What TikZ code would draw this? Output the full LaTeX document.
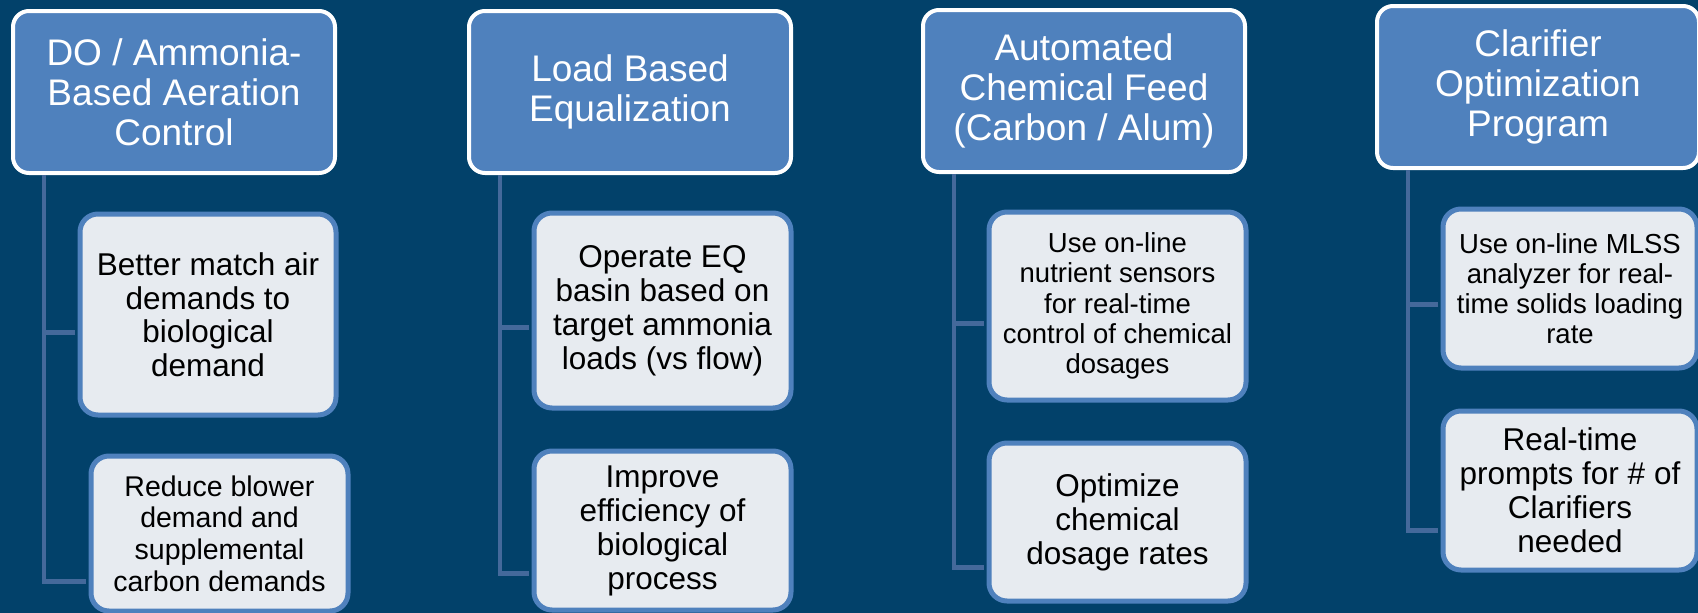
\documentclass[tikz,border=0pt]{standalone}
\usepackage{fontspec}
\setmainfont{Liberation Sans}
\usepackage{xcolor}
\usepackage{tikz}
\usetikzlibrary{positioning,calc}
\definecolor{bgnavy}{HTML}{02416A}
\definecolor{hdrblue}{HTML}{4F81BD}
\definecolor{leaffill}{HTML}{E7EBF0}
\definecolor{leafline}{HTML}{4F81BD}
\definecolor{linkblue}{HTML}{44699B}

\begin{document}
\begin{tikzpicture}[
    x=1pt, y=-1pt,
    hdr/.style={rectangle, rounded corners=16pt, draw=white, line width=4pt, fill=hdrblue,
        text=white, font=\fontsize{37}{40}\selectfont, minimum width=322pt, minimum height=162pt,
        inner sep=0pt, align=center, anchor=north west},
    leaf/.style={rectangle, rounded corners=18pt, draw=leafline, line width=5pt, fill=leaffill,
        text=black, font=\fontsize{31.5}{34}\selectfont, minimum width=257pt,
        inner sep=0pt, align=center, anchor=north west},
    smalltext/.style={font=\fontsize{27.5}{30.3}\selectfont},
    link/.style={draw=linkblue, line width=4.5pt}]
\useasboundingbox (0,0) rectangle (1698,613);
\fill[bgnavy] (0,0) rectangle (1698,613);

\node[hdr] (h1) at (11,9) {DO / Ammonia-\\Based Aeration\\Control};
\node[hdr] (h2) at (467,9) {Load Based\\Equalization};
\node[hdr] (h3) at (921,8) {Automated\\Chemical Feed\\(Carbon / Alum)};
\node[hdr] (h4) at (1375,4) {Clarifier\\Optimization\\Program};

\node[leaf, minimum width=256pt, minimum height=201pt, font=\fontsize{31.5}{33.5}\selectfont] (c11) at (77.5,211.5) {Better match air\\demands to\\biological\\demand};
\node[leaf, minimum height=155pt, font=\fontsize{28.5}{31.7}\selectfont] (c12) at (88.5,453.5) {Reduce blower\\demand and\\supplemental\\carbon demands};
\node[leaf, minimum height=195pt] (c21) at (531.5,210.5) {Operate EQ\\basin based on\\target ammonia\\loads (vs flow)};
\node[leaf, minimum height=159pt] (c22) at (531.5,448.5) {Improve\\efficiency of\\biological\\process};
\node[leaf, smalltext, minimum height=188pt] (c31) at (986.5,209.5) {Use on-line\\nutrient sensors\\for real-time\\control of chemical\\dosages};
\node[leaf, minimum height=158pt] (c32) at (986.5,440.5) {Optimize\\chemical\\dosage rates};
\node[leaf, smalltext, minimum width=254pt, minimum height=159pt, font=\fontsize{27.5}{30}\selectfont] (c41) at (1440.5,206.5) {Use on-line MLSS\\analyzer for real-\\time solids loading\\rate};
\node[leaf, minimum width=254pt, minimum height=159pt] (c42) at (1440.5,408.5) {Real-time\\prompts for \# of\\Clarifiers\\needed};

\coordinate (t1) at ([xshift=33pt]h1.south west);
\coordinate (t2) at ([xshift=33pt]h2.south west);
\coordinate (t3) at ([xshift=33pt]h3.south west);
\coordinate (t4) at ([xshift=33pt]h4.south west);

\path[link, shorten <=2pt, shorten >=2.5pt] (t1) |- ([yshift=-48pt]c12.west);
\path[link, shorten <=2.5pt] ([yshift=-18pt]c11.west) -| (t1);
\path[link, shorten <=2pt, shorten >=2.5pt] (t2) |- ([yshift=-43pt]c22.west);
\path[link, shorten <=2.5pt] ([yshift=-17pt]c21.west) -| (t2);
\path[link, shorten <=2pt, shorten >=2.5pt] (t3) |- ([yshift=-45.5pt]c32.west);
\path[link, shorten <=2.5pt] ([yshift=-17.5pt]c31.west) -| (t3);
\path[link, shorten <=2pt, shorten >=2.5pt] (t4) |- ([yshift=-40pt]c42.west);
\path[link, shorten <=2.5pt] ([yshift=-16pt]c41.west) -| (t4);

\end{tikzpicture}
\end{document}
